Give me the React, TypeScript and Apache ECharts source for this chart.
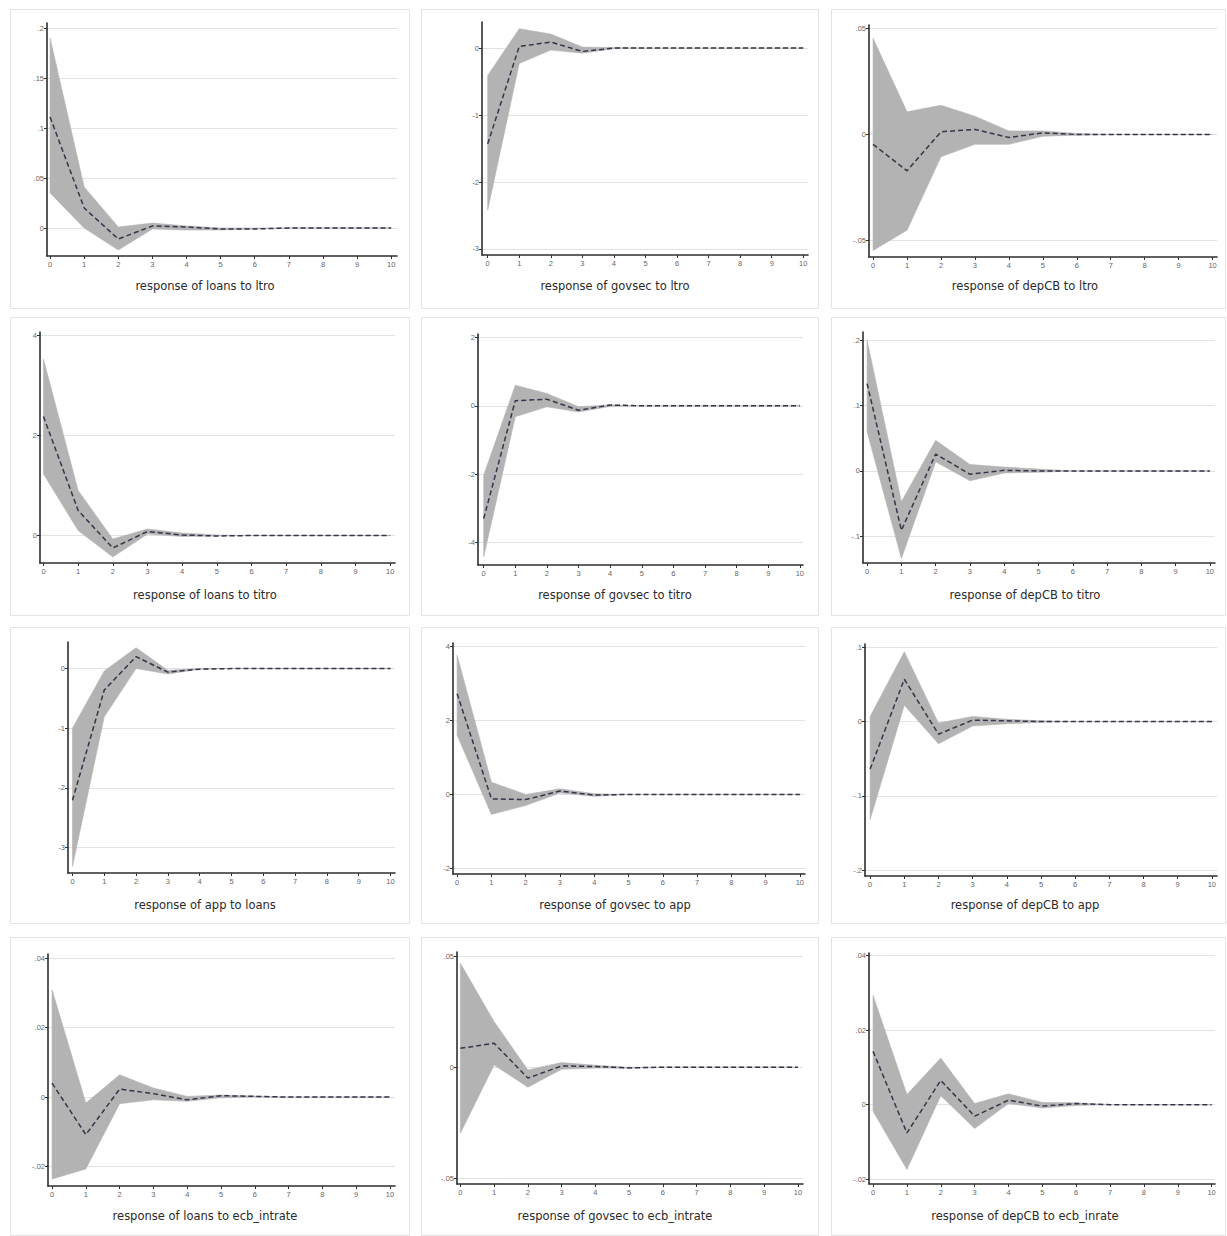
import React, { useEffect, useRef } from 'react';
import * as echarts from 'echarts';

const horizons = [0, 1, 2, 3, 4, 5, 6, 7, 8, 9, 10];
const xTicks = [0, 1, 2, 3, 4, 5, 6, 7, 8, 9, 10];

const titles = [
  'response of loans to ltro',
  'response of govsec to ltro',
  'response of depCB to ltro',
  'response of loans to titro',
  'response of govsec to titro',
  'response of depCB to titro',
  'response of app to loans',
  'response of govsec to app',
  'response of depCB to app',
  'response of loans to ecb_intrate',
  'response of govsec to ecb_intrate',
  'response of depCB to ecb_inrate',
];

// impulse responses (irf), lower and upper bounds
const irf1 = [0.111, 0.02, -0.011, 0.002, 0.001, -0.001, -0.001, 0, 0, 0, 0];
const lo1 = [0.035, 0.0, -0.022, -0.001, -0.002, -0.002, -0.001, 0, 0, 0, 0];
const up1 = [0.19, 0.041, 0.001, 0.005, 0.002, 0.0, 0.0, 0, 0, 0, 0];

const irf2 = [-1.43, 0.025, 0.09, -0.05, 0.0, 0, 0, 0, 0, 0, 0];
const lo2 = [-2.42, -0.23, -0.03, -0.075, -0.01, 0, 0, 0, 0, 0, 0];
const up2 = [-0.41, 0.29, 0.21, 0.015, 0.01, 0, 0, 0, 0, 0, 0];

const irf3 = [-0.0046, -0.0171, 0.0013, 0.0024, -0.0014, 0.0008, 0.0, 0, 0, 0, 0];
const lo3 = [-0.0546, -0.0451, -0.0105, -0.0046, -0.0046, -0.0008, -0.0003, 0, 0, 0, 0];
const up3 = [0.0453, 0.0107, 0.0138, 0.0086, 0.0017, 0.0017, 0.0005, 0, 0, 0, 0];

const irf4 = [2.38, 0.5, -0.25, 0.08, 0.01, -0.01, 0, 0, 0, 0, 0];
const lo4 = [1.23, 0.1, -0.43, 0.03, -0.02, -0.01, 0, 0, 0, 0, 0];
const up4 = [3.53, 0.9, -0.07, 0.13, 0.05, 0.01, 0, 0, 0, 0, 0];

const irf5 = [-3.3, 0.15, 0.19, -0.13, 0.02, 0, 0, 0, 0, 0, 0];
const lo5 = [-4.42, -0.32, -0.03, -0.18, -0.02, 0, 0, 0, 0, 0, 0];
const up5 = [-2.03, 0.6, 0.36, -0.03, 0.03, 0, 0, 0, 0, 0, 0];

const irf6 = [0.134, -0.091, 0.026, -0.005, 0.001, 0, 0, 0, 0, 0, 0];
const lo6 = [0.06, -0.134, 0.014, -0.015, -0.003, -0.002, 0, 0, 0, 0, 0];
const up6 = [0.2, -0.047, 0.047, 0.01, 0.006, 0.003, 0, 0, 0, 0, 0];

const irf7 = [-2.21, -0.36, 0.2, -0.06, -0.01, 0, 0, 0, 0, 0, 0];
const lo7 = [-3.32, -0.81, 0.0, -0.09, -0.01, 0, 0, 0, 0, 0, 0];
const up7 = [-1.0, -0.04, 0.35, -0.03, 0.0, 0, 0, 0, 0, 0, 0];

const irf8 = [2.72, -0.12, -0.14, 0.09, -0.02, 0, 0, 0, 0, 0, 0];
const lo8 = [1.6, -0.54, -0.3, 0.04, -0.05, 0, 0, 0, 0, 0, 0];
const up8 = [3.76, 0.33, 0.0, 0.15, 0.02, 0, 0, 0, 0, 0, 0];

const irf9 = [-0.064, 0.057, -0.017, 0.002, 0.001, 0, 0, 0, 0, 0, 0];
const lo9 = [-0.132, 0.022, -0.03, -0.006, -0.003, -0.001, 0, 0, 0, 0, 0];
const up9 = [0.007, 0.094, -0.002, 0.007, 0.003, 0.001, 0, 0, 0, 0, 0];

const irf10 = [0.004, -0.0108, 0.0023, 0.001, -0.0008, 0.0004, 0.0002, 0, 0, 0, 0];
const lo10 = [-0.0236, -0.0207, -0.0019, -0.0008, -0.0012, -0.0002, 0, 0, 0, 0, 0];
const up10 = [0.0309, -0.0017, 0.0064, 0.0026, 0.0002, 0.0006, 0.0003, 0, 0, 0, 0];

const irf11 = [0.0085, 0.0108, -0.0049, 0.0006, 0.0003, -0.0003, 0, 0, 0, 0, 0];
const lo11 = [-0.0297, 0.001, -0.009, -0.0009, -0.0004, -0.0005, 0, 0, 0, 0, 0];
const up11 = [0.0468, 0.0205, -0.0012, 0.0021, 0.0009, 0, 0, 0, 0, 0, 0];

const irf12 = [0.0143, -0.0076, 0.0065, -0.0031, 0.0012, -0.0004, 0.0003, 0, 0, 0, 0];
const lo12 = [-0.0018, -0.0174, 0.0024, -0.0064, 0.0003, -0.0009, -0.0002, 0, 0, 0, 0];
const up12 = [0.0293, 0.0027, 0.0125, 0.0003, 0.0029, 0.0006, 0.0005, 0, 0, 0, 0];

const irfs = [irf1, irf2, irf3, irf4, irf5, irf6, irf7, irf8, irf9, irf10, irf11, irf12];
const lows = [lo1, lo2, lo3, lo4, lo5, lo6, lo7, lo8, lo9, lo10, lo11, lo12];
const ups = [up1, up2, up3, up4, up5, up6, up7, up8, up9, up10, up11, up12];

// y tick values per panel
const yTicks = [
  [0, 0.05, 0.1, 0.15, 0.2],
  [-3, -2, -1, 0],
  [-0.05, 0, 0.05],
  [0, 2, 4],
  [-4, -2, 0, 2],
  [-0.1, 0, 0.1, 0.2],
  [-3, -2, -1, 0],
  [-2, 0, 2, 4],
  [-0.2, -0.1, 0, 0.1],
  [-0.02, 0, 0.02, 0.04],
  [-0.05, 0, 0.05],
  [-0.02, 0, 0.02, 0.04],
];

// y axis extents per panel
const yRanges = [
  [-0.028, 0.205],
  [-3.09, 0.39],
  [-0.0577, 0.0516],
  [-0.55, 4.07],
  [-4.66, 2.1],
  [-0.141, 0.213],
  [-3.43, 0.446],
  [-2.15, 4.09],
  [-0.208, 0.1045],
  [-0.0256, 0.0412],
  [-0.0526, 0.0519],
  [-0.0213, 0.0407],
];

// x axis extents per panel
const xRanges = [
  [-0.09, 10.17],
  [-0.18, 10.15],
  [-0.12, 10.13],
  [-0.1, 10.14],
  [-0.18, 10.1],
  [-0.12, 10.15],
  [-0.14, 10.14],
  [-0.12, 10.15],
  [-0.15, 10.15],
  [-0.12, 10.15],
  [-0.1, 10.15],
  [-0.12, 10.1],
];

// layout: plot boxes [left, top, right, bottom]
const boxes = [
  [47, 23, 397, 256],
  [482, 22, 808, 255],
  [869, 25, 1217, 257],
  [40, 332, 395, 563],
  [478, 334, 803, 565],
  [863, 332, 1215, 563],
  [68, 642, 395, 873],
  [453, 643, 805, 874],
  [865, 644, 1217, 876],
  [48, 954, 395, 1186],
  [457, 952, 803, 1184],
  [869, 953, 1215, 1184],
];
const colX = [10, 421, 831];
const colW = [399, 397, 394];
const rowY = [9, 317, 627, 937];
const rowH = [299, 298, 296, 298];
const titleY = [286, 595, 905, 1216];
const titleX = [205, 615, 1025];

const stataFmt = (v: number) => {
  const n = +Number(v).toFixed(5);
  if (n === 0) return '0';
  return String(n).replace(/^(-?)0\./, '$1.');
};

export default function App() {
  const ref = useRef<HTMLDivElement>(null);
  useEffect(() => {
    const chart = echarts.init(ref.current!, null, { renderer: 'svg' });
    const grid: any[] = [];
    const xAxis: any[] = [];
    const yAxis: any[] = [];
    const series: any[] = [];
    const graphic: any[] = [];

    for (let r = 0; r < 4; r++) {
      for (let c = 0; c < 3; c++) {
        graphic.push({
          type: 'rect',
          z: -10,
          shape: { x: colX[c] + 0.5, y: rowY[r] + 0.5, width: colW[c], height: rowH[r] },
          style: { fill: '#ffffff', stroke: '#e4e4e4', lineWidth: 1 },
          silent: true,
        });
      }
    }

    titles.forEach((t, i) => {
      const r = Math.floor(i / 3);
      const c = i % 3;
      graphic.push({
        type: 'text',
        x: titleX[c],
        y: titleY[r],
        style: {
          text: t,
          font: '11.5px "DejaVu Sans"',
          fill: '#2a2a2a',
          textAlign: 'center',
          textVerticalAlign: 'middle',
        },
        silent: true,
      });
    });

    for (let i = 0; i < 12; i++) {
      const b = boxes[i];
      grid.push({ left: b[0], top: b[1], width: b[2] - b[0], height: b[3] - b[1], containLabel: false });
      xAxis.push({
        type: 'value',
        gridIndex: i,
        min: xRanges[i][0],
        max: xRanges[i][1],
        axisLine: { onZero: false, lineStyle: { color: '#2e2e2e', width: 1.6 } },
        axisTick: { show: true, length: 3, customValues: xTicks, lineStyle: { color: '#2e2e2e', width: 1 } },
        axisLabel: {
          customValues: xTicks,
          fontSize: 7.5,
          color: '#666666',
          margin: 4,
          fontFamily: 'Liberation Sans',
        },
        splitLine: { show: false },
      });
      yAxis.push({
        type: 'value',
        gridIndex: i,
        min: yRanges[i][0],
        max: yRanges[i][1],
        axisLine: { show: true, onZero: false, lineStyle: { color: '#2e2e2e', width: 1.6 } },
        axisTick: { show: true, length: 3, customValues: yTicks[i], lineStyle: { color: '#2e2e2e', width: 1 } },
        axisLabel: {
          customValues: yTicks[i],
          fontSize: 7.5,
          color: '#666666',
          margin: 3,
          fontFamily: 'Liberation Sans',
          formatter: (v: number) => stataFmt(v),
        },
        splitLine: { show: true, lineStyle: { color: '#e2e2e2', width: 1 } },
      });

      const lo = lows[i];
      const up = ups[i];
      const irf = irfs[i];
      series.push({
        type: 'custom',
        xAxisIndex: i,
        yAxisIndex: i,
        silent: true,
        clip: true,
        z: 2,
        encode: { x: 0, y: [1, 2] },
        data: horizons.map((h, k) => [h, lo[k], up[k]]),
        renderItem: (params: any, api: any) => {
          if (params.dataIndex !== 0) return null;
          const pts: number[][] = [];
          for (let k = 0; k < horizons.length; k++) pts.push(api.coord([horizons[k], up[k]]));
          for (let k = horizons.length - 1; k >= 0; k--) pts.push(api.coord([horizons[k], lo[k]]));
          return {
            type: 'polygon',
            shape: { points: pts },
            style: { fill: '#b3b3b3', stroke: '#b3b3b3', lineWidth: 0.6 },
          };
        },
      });
      series.push({
        type: 'line',
        xAxisIndex: i,
        yAxisIndex: i,
        symbol: 'none',
        silent: true,
        z: 5,
        lineStyle: { color: '#33364a', width: 1.5, type: [5, 3] },
        data: horizons.map((h, k) => [h, irf[k]]),
      });
    }

    chart.setOption({
      animation: false,
      backgroundColor: '#ffffff',
      grid,
      xAxis,
      yAxis,
      series,
      graphic,
    });
    return () => chart.dispose();
  }, []);
  return (
    <div
      ref={ref}
      style={{ position: 'absolute', left: 0, top: 0, width: 1227, height: 1236, background: '#fff' }}
    />
  );
}
